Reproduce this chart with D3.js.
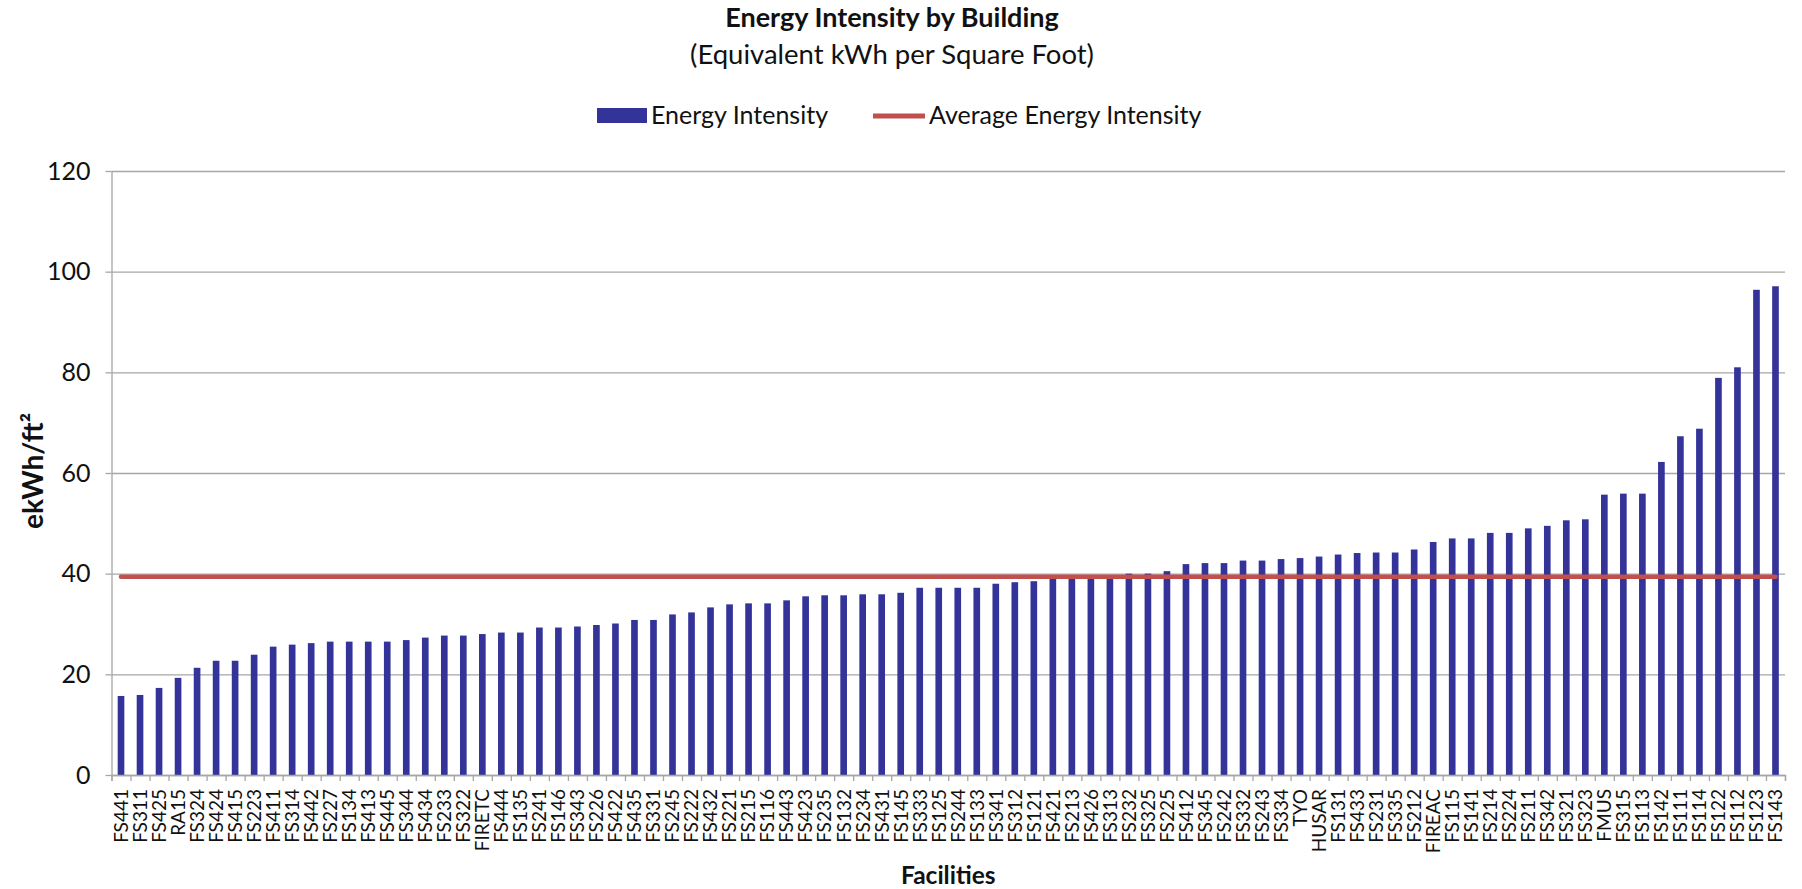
<!DOCTYPE html>
<html><head><meta charset="utf-8">
<script src="https://cdn.jsdelivr.net/npm/d3@7"></script>
<style>
html,body{margin:0;padding:0;background:#fff;}
svg{display:block;font-family:Lato, "Open Sans", sans-serif;}
</style></head>
<body>
<script>
const categories = ["FS441","FS311","FS425","RA15","FS324","FS424","FS415","FS223","FS411","FS314","FS442","FS227","FS134","FS413","FS445","FS344","FS434","FS233","FS322","FIRETC","FS444","FS135",
"FS241","FS146","FS343","FS226","FS422","FS435","FS331","FS245","FS222","FS432","FS221","FS215","FS116","FS443","FS423","FS235","FS132","FS234","FS431","FS145","FS333","FS125",
"FS244","FS133","FS341","FS312","FS121","FS421","FS213","FS426","FS313","FS232","FS325","FS225","FS412","FS345","FS242","FS332","FS243","FS334","TYO","HUSAR","FS131","FS433",
"FS231","FS335","FS212","FIREAC","FS115","FS141","FS214","FS224","FS211","FS342","FS321","FS323","FMUS","FS315","FS113","FS142","FS111","FS114","FS122","FS112","FS123","FS143"];
const energyIntensity = [15.7,15.9,17.3,19.3,21.3,22.7,22.7,23.9,25.5,25.9,26.2,26.5,26.5,26.5,26.5,26.8,27.3,27.7,27.7,28.0,28.3,28.3,
29.3,29.3,29.5,29.8,30.1,30.8,30.8,31.9,32.3,33.3,33.9,34.1,34.1,34.7,35.5,35.7,35.7,35.9,35.9,36.2,37.2,37.2,
37.2,37.2,38.0,38.3,38.5,39.0,39.1,39.2,39.3,40.0,40.0,40.5,41.9,42.1,42.1,42.6,42.6,42.9,43.1,43.4,43.8,44.1,
44.2,44.2,44.8,46.3,47.0,47.0,48.1,48.1,49.0,49.5,50.6,50.8,55.7,55.9,55.9,62.2,67.3,68.8,78.9,81.0,96.4,97.1];
const averageIntensity = [39.4];
const yTicks = [0,20,40,60,80,100,120];
const titleText = "Energy Intensity by Building";
const subtitleText = "(Equivalent kWh per Square Foot)";
const legendLabels = ["Energy Intensity","Average Energy Intensity"];
const yTitle = "ekWh/ft²";
const xTitle = "Facilities";

const W = 1802, H = 889;
const mLeft = 111.5, mRight = 1785, mTop = 171, mBottom = 775;
const barColor = "#333399", lineColor = "#C0504D", gridColor = "#A6A6A6", textColor = "#111";

const svg = d3.select("body").append("svg").attr("width", W).attr("height", H);

const x = d3.scaleBand().domain(categories).range([mLeft, mRight]).paddingInner(0.65).paddingOuter(0.325);
const y = d3.scaleLinear().domain([0, 120]).range([mBottom, mTop]);
const xb = d3.scaleLinear().domain([0, categories.length]).range([mLeft, mRight]);

// gridlines
const grid = svg.append("g").attr("transform", `translate(${mLeft},0)`)
  .call(d3.axisLeft(y).tickValues(yTicks).tickSize(-(mRight - mLeft)).tickFormat(""));
grid.select(".domain").remove();
grid.selectAll("line").attr("stroke", gridColor).attr("stroke-width", 1.3);

// y axis
const ya = svg.append("g").attr("transform", `translate(${mLeft},0)`)
  .call(d3.axisLeft(y).tickValues(yTicks).tickSize(6).tickPadding(15).tickSizeOuter(0));
ya.select(".domain").attr("stroke", gridColor).attr("stroke-width", 1.3);
ya.selectAll("line").attr("stroke", gridColor).attr("stroke-width", 1.3);
ya.selectAll("text").attr("font-size", 25).attr("fill", textColor).attr("font-family", "Lato");

// bars
svg.append("g").selectAll("rect").data(categories).join("rect")
  .attr("x", d => x(d)).attr("width", x.bandwidth())
  .attr("y", (d, i) => y(energyIntensity[i]))
  .attr("height", (d, i) => y(0) - y(energyIntensity[i]))
  .attr("fill", barColor);

// average line
svg.append("line")
  .attr("x1", x(categories[0]) + x.bandwidth() / 2)
  .attr("x2", x(categories[categories.length - 1]) + x.bandwidth() / 2)
  .attr("y1", y(averageIntensity[0])).attr("y2", y(averageIntensity[0]))
  .attr("stroke", lineColor).attr("stroke-width", 4.5).attr("stroke-linecap", "round");

// x axis boundary ticks
const xt = svg.append("g").attr("transform", `translate(0,${mBottom})`)
  .call(d3.axisBottom(xb).tickValues(d3.range(categories.length + 1)).tickSize(6).tickFormat(""));
xt.select(".domain").attr("stroke", gridColor).attr("stroke-width", 1.3);
xt.selectAll("line").attr("stroke", gridColor).attr("stroke-width", 1.3);

// x labels
const xa = svg.append("g").attr("transform", `translate(0,${mBottom})`)
  .call(d3.axisBottom(x).tickSize(0));
xa.select(".domain").remove();
xa.selectAll("text")
  .attr("transform", "rotate(-90)")
  .attr("x", -14).attr("y", 0).attr("dy", "0.36em")
  .style("text-anchor", "end")
  .attr("font-size", 19).attr("fill", textColor).attr("font-family", "Lato");

// titles
svg.append("text").attr("x", 892).attr("y", 27).attr("text-anchor", "middle")
  .attr("font-size", 27).attr("font-weight", "bold").attr("fill", textColor).text(titleText);
svg.append("text").attr("x", 892).attr("y", 64).attr("text-anchor", "middle")
  .attr("font-size", 27.5).attr("fill", textColor).text(subtitleText);

// legend
svg.append("rect").attr("x", 597).attr("y", 108).attr("width", 50).attr("height", 15).attr("fill", barColor);
svg.append("text").attr("x", 651).attr("y", 124).attr("font-size", 25).attr("fill", textColor).text(legendLabels[0]);
svg.append("line").attr("x1", 873).attr("x2", 925).attr("y1", 116).attr("y2", 116)
  .attr("stroke", lineColor).attr("stroke-width", 5);
svg.append("text").attr("x", 929).attr("y", 124).attr("font-size", 25).attr("fill", textColor).text(legendLabels[1]);

// axis titles
svg.append("text").attr("transform", "translate(43,471) rotate(-90)").attr("text-anchor", "middle")
  .attr("font-size", 28).attr("font-weight", "bold").attr("fill", textColor).text(yTitle);
svg.append("text").attr("x", (mLeft + mRight) / 2).attr("y", 884).attr("text-anchor", "middle")
  .attr("font-size", 24.5).attr("font-weight", "bold").attr("fill", textColor).text(xTitle);
</script>
</body></html>
